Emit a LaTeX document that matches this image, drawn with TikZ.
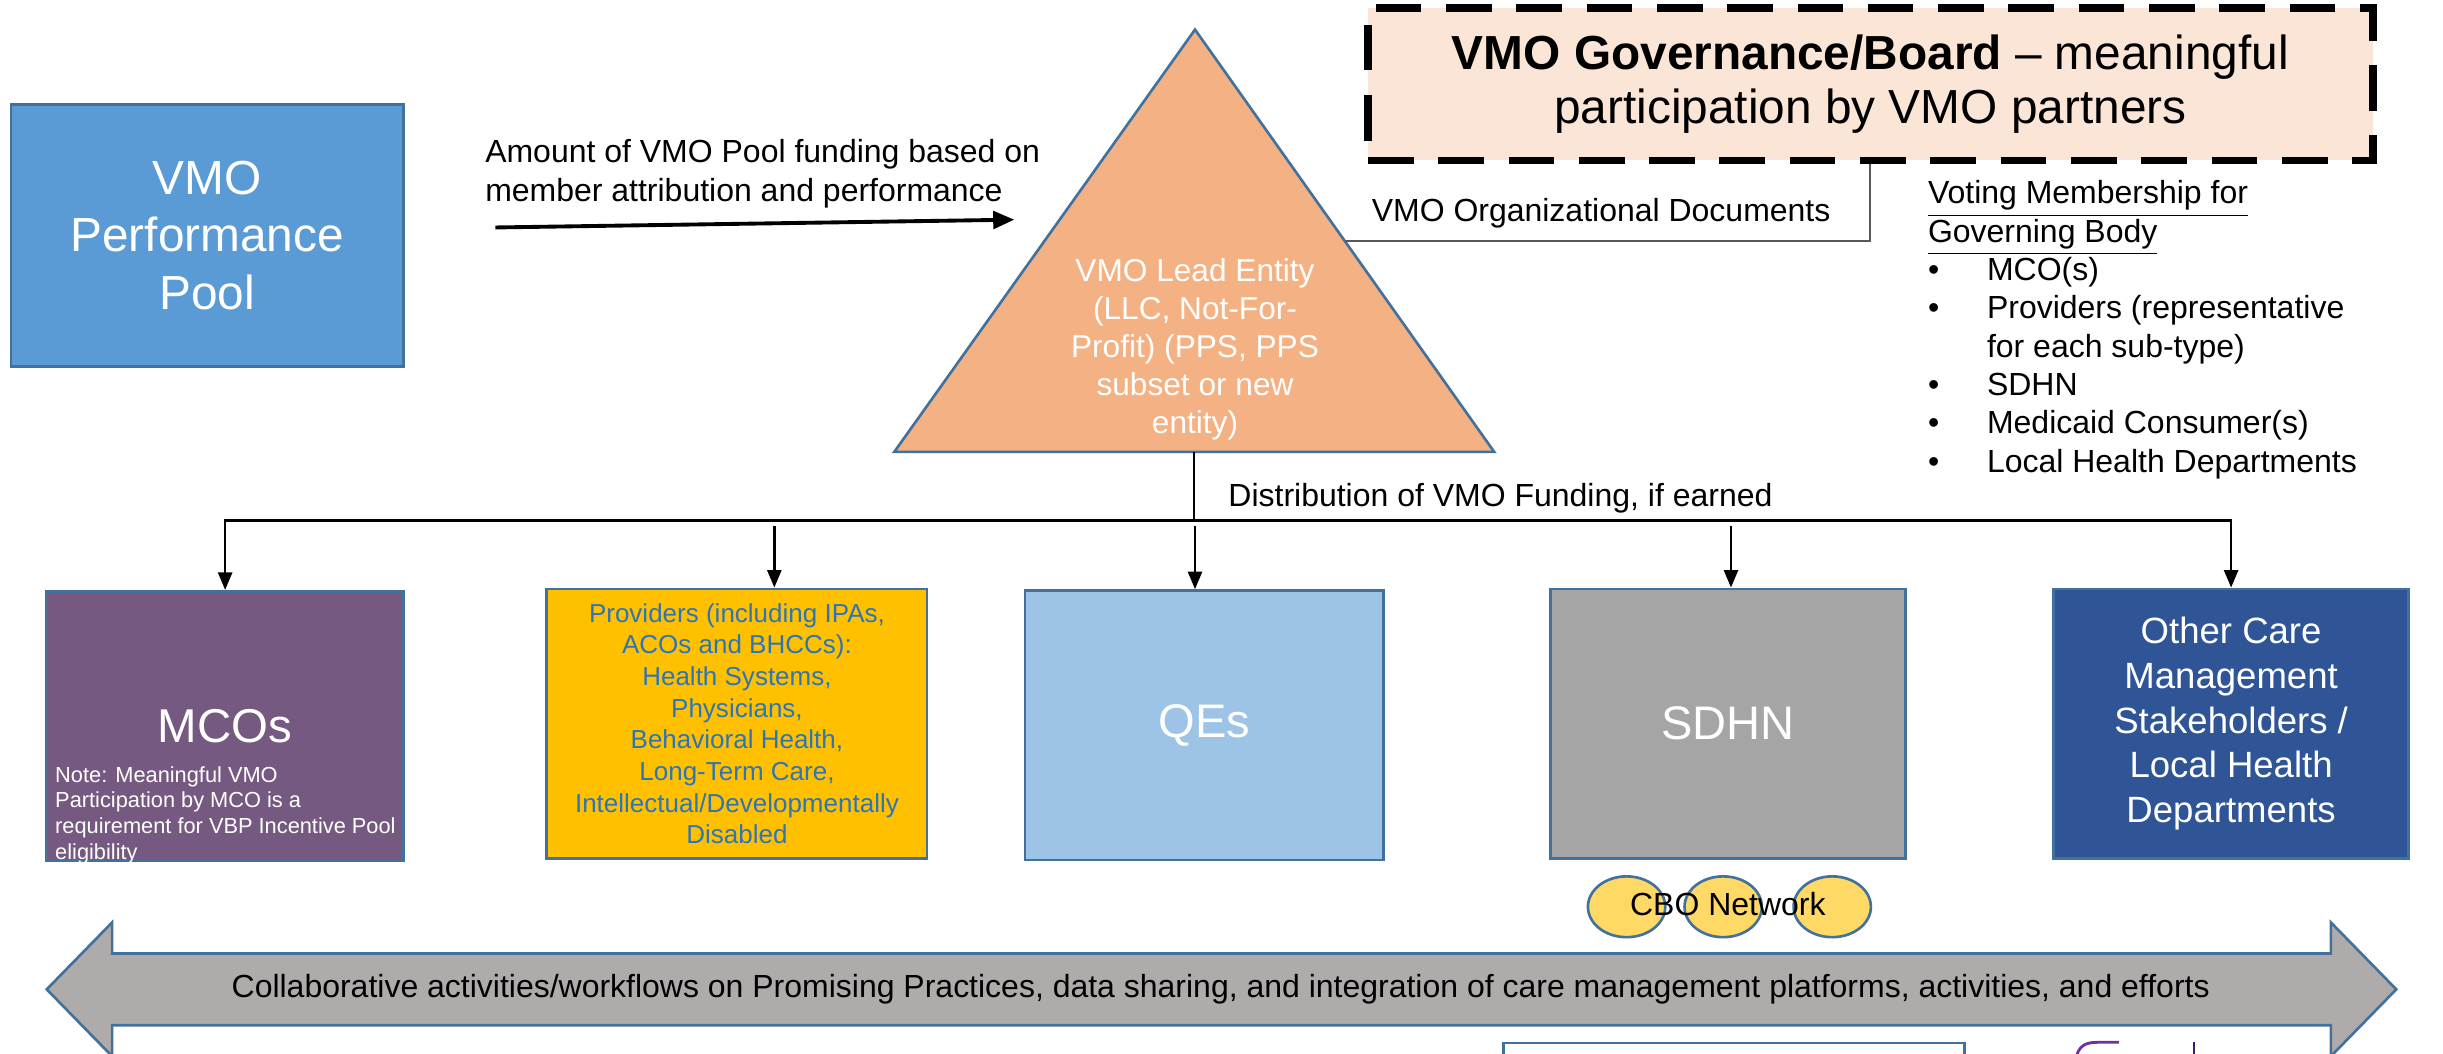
\documentclass[tikz,border=0pt]{standalone}
\usepackage{fontspec}
\setmainfont{Liberation Sans}
\definecolor{poolblue}{RGB}{91, 155, 213}
\definecolor{edgeblue}{RGB}{65, 113, 156}
\definecolor{leadorange}{RGB}{244, 177, 131}
\definecolor{govpeach}{RGB}{251, 229, 214}
\definecolor{mcopurple}{RGB}{118, 89, 128}
\definecolor{provgold}{RGB}{255, 192, 0}
\definecolor{provtext}{RGB}{46, 117, 182}
\definecolor{qeblue}{RGB}{157, 195, 230}
\definecolor{sdhngray}{RGB}{165, 165, 165}
\definecolor{othernavy}{RGB}{47, 85, 151}
\definecolor{cboyellow}{RGB}{255, 217, 102}
\definecolor{collabgray}{RGB}{175, 171, 171}
\definecolor{docgray}{RGB}{89, 89, 89}
\definecolor{scribble}{RGB}{112, 48, 160}
\usepackage{tikz}
\usetikzlibrary{arrows.meta, positioning, calc, shapes.geometric}

\begin{document}
\begin{tikzpicture}[x=0.01558cm, y=-0.01558cm,
  box/.style={draw=edgeblue, line width=0.75pt, minimum height=76.7pt, inner sep=0pt, align=center},
  plain/.style={inner sep=0pt, align=left, font=\fontsize{9.1}{10.9}\selectfont},
  distline/.style={line width=0.7pt},
  disttip/.style={distline, -{Triangle[length=5pt, width=4pt]}},
  cbo/.style={ellipse, draw=edgeblue, line width=0.75pt, fill=cboyellow, minimum width=22pt, minimum height=17.3pt, inner sep=0pt}]
  \useasboundingbox (0,0) rectangle (1568,676);
  \clip (0,0) rectangle (1568,676);

  % Performance pool
  \node[box, fill=poolblue, minimum width=111.7pt, minimum height=74.5pt, text=white, font=\fontsize{13.6}{16.4}\selectfont] (pool) at (133,151) {VMO\\Performance\\Pool};

  % Funding into the lead entity
  \node[plain, anchor=west] (amount) at (311,111.5) {Amount of VMO Pool funding based on\\member attribution and performance};
  \coordinate (amtstart) at (318,146);
  \coordinate (amtend) at (651,141);
  \draw[line width=1.1pt, -{Triangle[length=6pt, width=5pt]}] (amtstart) -- (amtend);

  % Lead entity
  \coordinate (apex) at (767,19);
  \coordinate (baseL) at (574,290);
  \coordinate (baseR) at (959,290);
  \draw[draw=edgeblue, line width=0.75pt, fill=leadorange] (apex) -- (baseR) -- (baseL) -- cycle;
  \node[text=white, align=center, inner sep=0pt, font=\fontsize{9}{10.8}\selectfont] (lead) at (767,224) {VMO Lead Entity\\(LLC, Not-For-\\Profit) (PPS, PPS\\subset or new\\entity)};

  % Governance / board
  \node[draw=black, line width=2.2pt, dash pattern=on 13pt off 7pt, fill=govpeach, minimum width=285.9pt, minimum height=43.4pt, inner sep=0pt, align=center, font=\fontsize{13.6}{15.5}\selectfont] (gov) at (1200.5,54) {\textbf{VMO Governance/Board} -- meaningful\\participation by VMO partners};

  % Organizational documents
  \coordinate (docs) at ($(apex)!0.5!(baseR)$);
  \draw[docgray, line width=0.6pt] (docs) -| (gov.south);
  \node[plain, anchor=west] (orgdocs) at (880,137) {VMO Organizational Documents};

  % Voting membership
  \node[plain, anchor=north west] (voting) at (1237,115.5) {\underline{Voting Membership for}\\
    \underline{Governing Body}\\
    \makebox[16.8pt][l]{\textbullet}MCO(s)\\
    \makebox[16.8pt][l]{\textbullet}Providers (representative\\
    \hspace*{16.8pt}for each sub-type)\\
    \makebox[16.8pt][l]{\textbullet}SDHN\\
    \makebox[16.8pt][l]{\textbullet}Medicaid Consumer(s)\\
    \makebox[16.8pt][l]{\textbullet}Local Health Departments};

  % VMO partners
  \node[box, fill=mcopurple, minimum width=101.5pt, text=white, font=\fontsize{13.5}{16}\selectfont] (mco) at (144.5,466) {MCOs};
  \node[inner sep=0pt, anchor=north west, text=white, align=left, font=\fontsize{6.2}{7.3}\selectfont] (mconote) at (35,491.5) {Note: Meaningful VMO\\Participation by MCO is a\\requirement for VBP Incentive Pool\\eligibility};
  \node[box, fill=provgold, minimum width=108.2pt, text=provtext, font=\fontsize{7.4}{9}\selectfont] (prov) at (473,464.5) {Providers (including IPAs,\\ACOs and BHCCs):\\Health Systems,\\Physicians,\\Behavioral Health,\\Long-Term Care,\\Intellectual/Developmentally\\Disabled};
  \node[box, fill=qeblue, minimum width=102pt, text=white, font=\fontsize{13.4}{16}\selectfont] (qe) at (773,465.5) {QEs};
  \node[box, fill=sdhngray, minimum width=101pt, text=white, font=\fontsize{13.4}{16}\selectfont] (sdhn) at (1109,464.5) {SDHN};
  \node[box, fill=othernavy, minimum width=101pt, text=white, font=\fontsize{10.4}{12.75}\selectfont] (other) at (1432,464.5) {Other Care\\Management\\Stakeholders /\\Local Health\\Departments};

  % Distribution of funding
  \coordinate (basemid) at ($(baseL)!0.5!(baseR)$);
  \coordinate (split) at (767,334);
  \draw[distline] (basemid) -- (basemid |- split);
  \draw[distline, {Triangle[length=5pt, width=4pt]}-{Triangle[length=5pt, width=4pt]}] (mco.north) |- (split) -| (other.north);
  \node[plain, anchor=west] (distlabel) at (788,320) {Distribution of VMO Funding, if earned};
  \coordinate (provtap) at (497,337.6);
  \coordinate (qetap) at (767,337.6);
  \coordinate (sdhntap) at (1111,337.6);
  \draw[disttip] (provtap) -- (provtap |- prov.north);
  \draw[disttip] (qetap) -- (qetap |- qe.north);
  \draw[disttip] (sdhntap) -- (sdhntap |- sdhn.north);

  % CBO network
  \foreach \cx/\nm in {1044/cboA, 1106/cboB, 1176/cboC}
    \node[cbo] (\nm) at (\cx,582) {};
  \node[plain] (cbonet) at (1109,580) {CBO Network};

  % Collaborative activities
  \draw[draw=edgeblue, line width=0.75pt, fill=collabgray] (30,635) -- (72,592) -- (72,612) -- (1496,612) -- (1496,592) -- (1538,635) -- (1496,678) -- (1496,658) -- (72,658) -- (72,678) -- cycle;
  \node[plain] (collab) at (783.5,635) {Collaborative activities/workflows on Promising Practices, data sharing, and integration of care management platforms, activities, and efforts};

  % cut-off shapes at the bottom edge
  \draw[draw=edgeblue, line width=0.75pt, fill=white] (965,669.5) rectangle (1261,720);
  \draw[scribble, line width=0.8pt] (1333,677) .. controls (1335,671) and (1339,669) .. (1346,669) -- (1360,669);
  \draw[scribble!60!black, line width=0.6pt] (1408,669) -- (1408,677);
\end{tikzpicture}
\end{document}
